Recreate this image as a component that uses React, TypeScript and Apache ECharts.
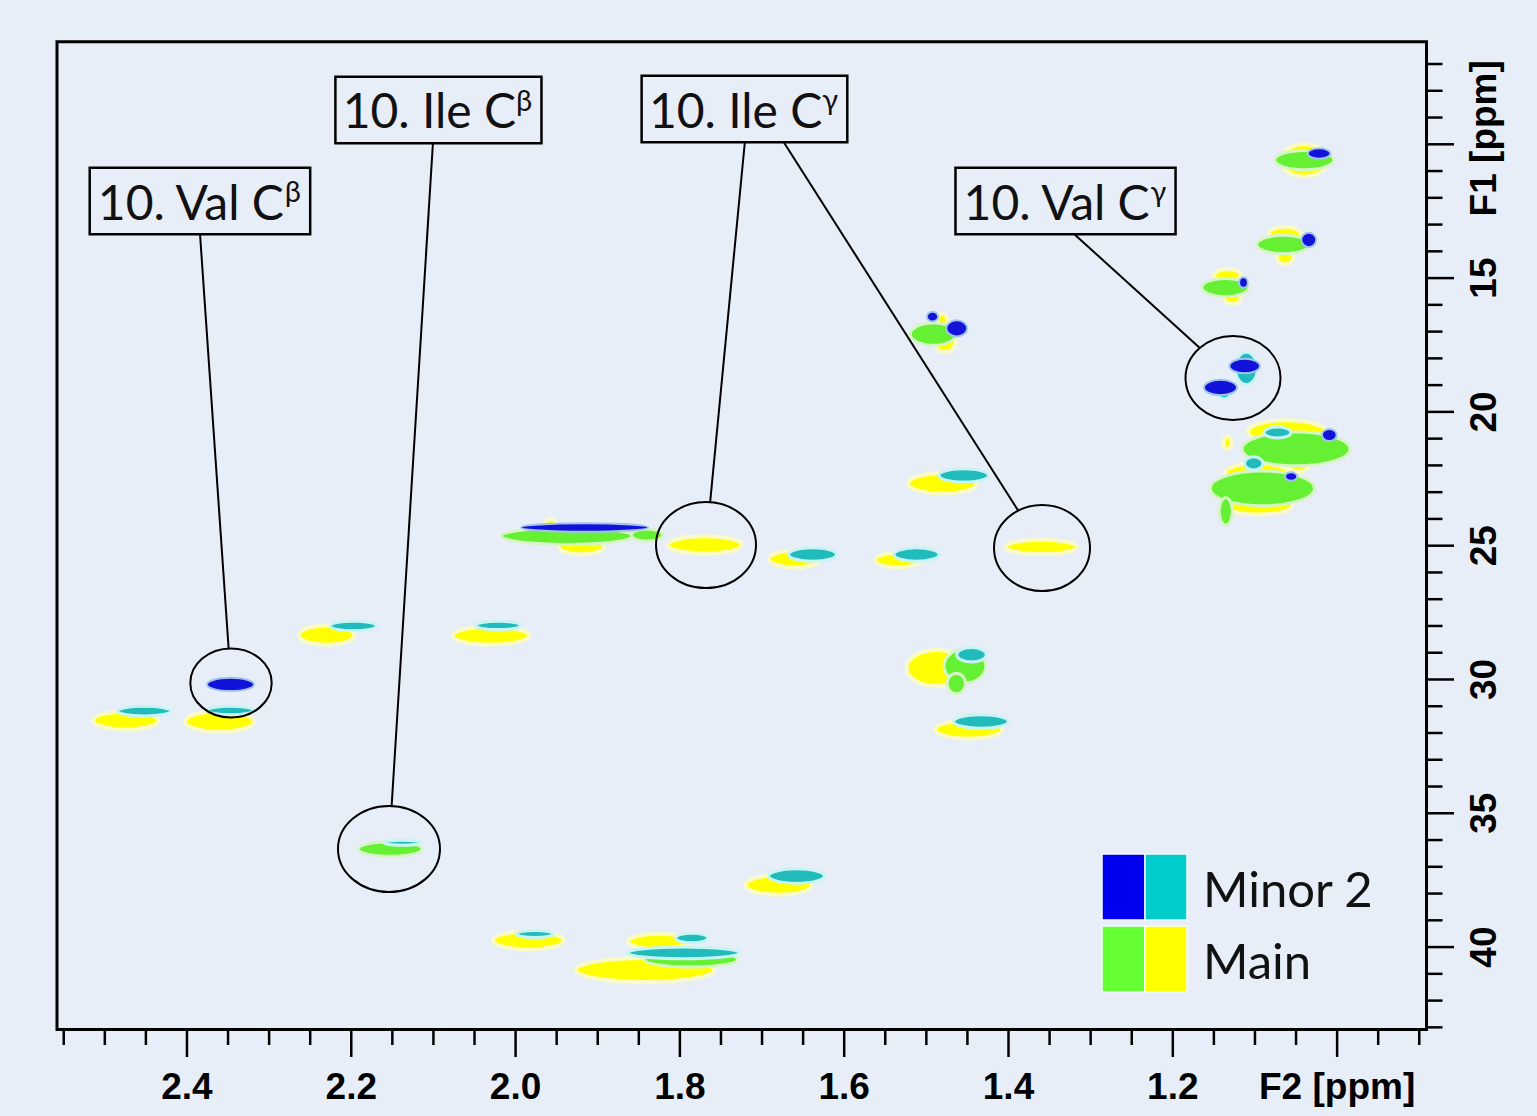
import React, { useEffect, useRef } from 'react';
import * as echarts from 'echarts';

// ---- axis extents (ppm) ----
const X_MIN = 0.8912;
const X_MAX = 2.5582;
const Y_MIN = 6.166;
const Y_MAX = 43.08;

// ---- tick labels ----
const xMajorTicks = [2.4, 2.2, 2.0, 1.8, 1.6, 1.4, 1.2, 1.0];
const xTickLabels = ['2.4', '2.2', '2.0', '1.8', '1.6', '1.4', '1.2', 'F2 [ppm]'];
const xMinorTicks = [2.55, 2.5, 2.45, 2.35, 2.3, 2.25, 2.15, 2.1, 2.05, 1.95, 1.9, 1.85, 1.75, 1.7, 1.65, 1.55, 1.5, 1.45, 1.35, 1.3, 1.25, 1.15, 1.1, 1.05, 0.95, 0.9];
const yMajorTicks = [10, 15, 20, 25, 30, 35, 40];
const yTickLabels = ['F1 [ppm]', '15', '20', '25', '30', '35', '40'];
const yMinorTicks = [7, 8, 9, 11, 12, 13, 14, 16, 17, 18, 19, 21, 22, 23, 24, 26, 27, 28, 29, 31, 32, 33, 34, 36, 37, 38, 39, 41, 42, 43];

// ---- contour blobs: [F2 from, F2 to, F1 from, F1 to] in ppm ----
const yellowPeaks = [
  [1.013, 1.067, 10.10, 11.11],
  [1.045, 1.082, 13.13, 13.58],
  [1.054, 1.073, 13.95, 14.44],
  [1.118, 1.149, 14.70, 15.11],
  [1.118, 1.137, 15.56, 15.93],
  [1.475, 1.487, 16.38, 16.75],
  [1.465, 1.490, 16.94, 17.69],
  [1.129, 1.138, 20.94, 21.35],
  [1.017, 1.106, 20.38, 21.09],
  [1.033, 1.061, 21.61, 22.17],
  [1.061, 1.134, 21.98, 22.55],
  [1.057, 1.134, 23.22, 23.78],
  [1.894, 1.946, 24.79, 25.27],
  [1.950, 1.964, 24.04, 24.41],
  [1.727, 1.812, 24.70, 25.24],
  [1.630, 1.690, 25.24, 25.76],
  [1.508, 1.561, 25.31, 25.76],
  [1.319, 1.401, 24.82, 25.27],
  [1.441, 1.520, 22.36, 22.99],
  [1.453, 1.522, 29.01, 30.13],
  [1.410, 1.487, 31.59, 32.15],
  [2.198, 2.262, 28.04, 28.64],
  [1.986, 2.074, 28.08, 28.64],
  [2.437, 2.512, 31.25, 31.81],
  [2.321, 2.400, 31.25, 31.89],
  [1.642, 1.718, 37.38, 37.98],
  [1.944, 2.025, 39.47, 40.03],
  [1.791, 1.861, 39.55, 40.03],
  [1.763, 1.922, 40.48, 41.23],
];
const greenPeaks = [
  [1.006, 1.074, 10.29, 10.89],
  [1.035, 1.096, 13.46, 14.03],
  [1.109, 1.163, 15.07, 15.63],
  [1.465, 1.518, 16.75, 17.44],
  [0.988, 1.112, 20.86, 21.91],
  [1.031, 1.151, 22.32, 23.40],
  [1.128, 1.143, 23.29, 24.15],
  [1.861, 2.013, 24.38, 24.90],
  [1.822, 1.858, 24.41, 24.79],
  [1.429, 1.477, 28.97, 30.02],
  [1.453, 1.474, 29.83, 30.47],
  [1.423, 1.459, 31.33, 31.66],
  [2.116, 2.189, 36.11, 36.56],
  [1.733, 1.840, 40.22, 40.70],
];
const cyanPeaks = [
  [1.098, 1.123, 17.87, 18.88],
  [1.130, 1.145, 19.11, 19.48],
  [1.057, 1.088, 20.60, 20.94],
  [1.091, 1.112, 21.72, 22.13],
  [1.611, 1.666, 25.12, 25.54],
  [1.486, 1.538, 25.12, 25.54],
  [1.426, 1.483, 22.17, 22.58],
  [1.428, 1.462, 28.85, 29.30],
  [1.402, 1.465, 31.36, 31.78],
  [2.171, 2.224, 27.85, 28.15],
  [1.995, 2.047, 27.85, 28.11],
  [2.421, 2.483, 31.03, 31.33],
  [2.320, 2.374, 31.03, 31.29],
  [2.116, 2.159, 36.02, 36.18],
  [1.626, 1.690, 37.12, 37.57],
  [1.955, 1.998, 39.40, 39.62],
  [1.767, 1.804, 39.51, 39.81],
  [1.731, 1.860, 40.03, 40.40],
];
const bluePeaks = [
  [1.009, 1.035, 10.18, 10.51],
  [1.026, 1.043, 13.35, 13.80],
  [1.109, 1.119, 15.00, 15.33],
  [1.486, 1.499, 16.29, 16.59],
  [1.451, 1.475, 16.63, 17.13],
  [1.095, 1.130, 18.06, 18.51],
  [1.123, 1.161, 18.85, 19.33],
  [1.001, 1.018, 20.68, 21.05],
  [1.049, 1.063, 22.28, 22.55],
  [1.843, 1.989, 24.19, 24.45],
  [2.320, 2.374, 29.98, 30.39],
];

// ---- annotations ----
const annotationNames = ['10. Val C', '10. Ile C', '10. Ile C', '10. Val C'];
const annotationSups = ['β', 'β', 'γ', 'γ'];
// box bottom-centre (ppm)
const annotationBoxes = [
  [2.3842, 13.315],
  [2.0939, 9.914],
  [1.7214, 9.877],
  [1.3306, 13.315],
];
// leader lines: [from F2, from F1, circled peak F2, circled peak F1]
const annotationLinks = [
  [[2.3842, 13.315, 2.3464, 30.131]],
  [[2.1005, 9.914, 2.1541, 36.334]],
  [[1.7208, 9.877, 1.7682, 24.974], [1.6745, 9.877, 1.3592, 25.086]],
  [[1.3215, 13.315, 1.1267, 18.733]],
];
// circle radii (px) — layout only
const circleRadii = [
  [[40.7, 34.5]],
  [[51, 43]],
  [[50, 43], [48, 43]],
  [[47.5, 42]],
];

// ---- legend ----
const legendLabels = ['Minor 2', 'Main'];
const legendColors = [['#0000EE', '#00CCCC'], ['#66FF33', '#FFFF00']];

const BG = '#E8EEF8';
const TICK_FONT = 'Liberation Sans';
const LABEL_FONT = 'Lato, "Liberation Sans", sans-serif';

function blobSeries(name: string, data: number[][], fill: string, halo: string, haloW: number) {
  return {
    type: 'custom',
    name,
    coordinateSystem: 'cartesian2d',
    silent: true,
    clip: false,
    encode: { x: [0, 1], y: [2, 3] },
    data,
    renderItem: (params: any, api: any) => {
      const p1 = api.coord([api.value(0), api.value(2)]);
      const p2 = api.coord([api.value(1), api.value(3)]);
      return {
        type: 'ellipse',
        shape: {
          cx: (p1[0] + p2[0]) / 2,
          cy: (p1[1] + p2[1]) / 2,
          rx: (Math.abs(p2[0] - p1[0]) / 2) * 1.06,
          ry: (Math.abs(p2[1] - p1[1]) / 2) * 1.2,
        },
        style: { fill, stroke: halo, lineWidth: haloW },
      };
    },
  };
}

function buildOption() {
  const xMinorSeries = {
    type: 'custom',
    coordinateSystem: 'cartesian2d',
    silent: true,
    clip: false,
    encode: { x: 0, y: 1 },
    data: xMinorTicks.map((v) => [v, Y_MAX]),
    renderItem: (params: any, api: any) => {
      const p = api.coord([api.value(0), Y_MAX]);
      return {
        type: 'line',
        shape: { x1: p[0], y1: p[1], x2: p[0], y2: p[1] + 15.5 },
        style: { stroke: '#000', lineWidth: 2.5 },
      };
    },
  };
  const xMajorSeries = {
    type: 'custom',
    coordinateSystem: 'cartesian2d',
    silent: true,
    clip: false,
    encode: { x: 0, y: 1 },
    data: xMajorTicks.map((v) => [v, Y_MAX]),
    renderItem: (params: any, api: any) => {
      const p = api.coord([api.value(0), Y_MAX]);
      return {
        type: 'group',
        children: [
          {
            type: 'line',
            shape: { x1: p[0], y1: p[1], x2: p[0], y2: p[1] + 27.5 },
            style: { stroke: '#000', lineWidth: 2.5 },
          },
          {
            type: 'text',
            x: p[0],
            y: p[1] + 57,
            style: {
              text: xTickLabels[params.dataIndex],
              fontSize: 37,
              fontWeight: 'bold',
              fontFamily: TICK_FONT,
              fill: '#000',
              align: 'center',
              verticalAlign: 'middle',
            },
          },
        ],
      };
    },
  };
  const yMinorSeries = {
    type: 'custom',
    coordinateSystem: 'cartesian2d',
    silent: true,
    clip: false,
    encode: { x: 0, y: 1 },
    data: yMinorTicks.map((v) => [X_MIN, v]),
    renderItem: (params: any, api: any) => {
      const p = api.coord([X_MIN, api.value(1)]);
      return {
        type: 'line',
        shape: { x1: p[0], y1: p[1], x2: p[0] + 16, y2: p[1] },
        style: { stroke: '#000', lineWidth: 2.5 },
      };
    },
  };
  const yMajorSeries = {
    type: 'custom',
    coordinateSystem: 'cartesian2d',
    silent: true,
    clip: false,
    encode: { x: 0, y: 1 },
    data: yMajorTicks.map((v) => [X_MIN, v]),
    renderItem: (params: any, api: any) => {
      const p = api.coord([X_MIN, api.value(1)]);
      return {
        type: 'group',
        children: [
          {
            type: 'line',
            shape: { x1: p[0], y1: p[1], x2: p[0] + 27.5, y2: p[1] },
            style: { stroke: '#000', lineWidth: 2.5 },
          },
          {
            type: 'text',
            x: p[0] + 57,
            y: p[1] - (params.dataIndex === 0 ? 6 : 0),
            rotation: Math.PI / 2,
            style: {
              text: yTickLabels[params.dataIndex],
              fontSize: 37,
              fontWeight: 'bold',
              fontFamily: TICK_FONT,
              fill: '#000',
              align: 'center',
              verticalAlign: 'middle',
            },
          },
        ],
      };
    },
  };

  const annotationSeries = {
    type: 'custom',
    coordinateSystem: 'cartesian2d',
    silent: true,
    clip: false,
    encode: { x: 0, y: 1 },
    data: annotationBoxes,
    renderItem: (params: any, api: any) => {
      const i = params.dataIndex;
      const box = api.coord([api.value(0), api.value(1)]);
      const children: any[] = [];
      annotationLinks[i].forEach((lk, j) => {
        const from = api.coord([lk[0], lk[1]]);
        const c = api.coord([lk[2], lk[3]]);
        const [rx, ry] = circleRadii[i][j];
        const dx = (from[0] - c[0]) / rx;
        const dy = (from[1] - c[1]) / ry;
        const n = Math.sqrt(dx * dx + dy * dy);
        const ex = c[0] + (rx * dx) / n;
        const ey = c[1] + (ry * dy) / n;
        children.push({
          type: 'line',
          shape: { x1: from[0], y1: from[1], x2: ex, y2: ey },
          style: { stroke: '#000', lineWidth: 2 },
        });
        children.push({
          type: 'ellipse',
          shape: { cx: c[0], cy: c[1], rx, ry },
          style: { fill: 'none', stroke: '#000', lineWidth: 2 },
        });
      });
      children.push({
        type: 'text',
        x: box[0],
        y: box[1],
        style: {
          text: '{m|' + annotationNames[i] + '}{s|' + annotationSups[i] + '}',
          align: 'center',
          verticalAlign: 'bottom',
          backgroundColor: BG,
          borderColor: '#000',
          borderWidth: 2.5,
          padding: [7, 8, 7, 6],
          rich: {
            m: { fontSize: 48, fontFamily: LABEL_FONT, fill: '#111', lineHeight: 50 },
            s: { fontSize: 29, fontFamily: LABEL_FONT, fill: '#111', verticalAlign: 'top', lineHeight: 30 },
          },
        },
      });
      return { type: 'group', children };
    },
  };

  const graphic: any[] = [];
  legendLabels.forEach((lab, i) => {
    const y = 854 + i * 72;
    graphic.push({ type: 'rect', shape: { x: 1102, y, width: 43, height: 66 }, style: { fill: legendColors[i][0], stroke: '#F4FAFF', lineWidth: 1.5 } });
    graphic.push({ type: 'rect', shape: { x: 1145, y, width: 42, height: 66 }, style: { fill: legendColors[i][1], stroke: '#F4FAFF', lineWidth: 1.5 } });
    graphic.push({
      type: 'text',
      x: 1203,
      y: y + 34,
      style: { text: lab, fontSize: 49, fontFamily: LABEL_FONT, fill: '#111', verticalAlign: 'middle', align: 'left' },
    });
  });

  return {
    animation: false,
    backgroundColor: BG,
    grid: {
      left: 57,
      right: 110.5,
      top: 41.7,
      bottom: 86.5,
      show: true,
      borderColor: '#000',
      borderWidth: 3,
      backgroundColor: 'transparent',
    },
    xAxis: { type: 'value', min: X_MIN, max: X_MAX, inverse: true, show: false },
    yAxis: { type: 'value', min: Y_MIN, max: Y_MAX, inverse: true, show: false },
    series: [
      xMinorSeries,
      xMajorSeries,
      yMinorSeries,
      yMajorSeries,
      blobSeries('Main (yellow)', yellowPeaks, '#FFFF00', '#FAFAC4', 4),
      blobSeries('Main (green)', greenPeaks, '#66F033', '#D6F5C4', 3),
      blobSeries('Minor 2 (cyan)', cyanPeaks, '#22BBBB', '#C8F4F4', 3),
      blobSeries('Minor 2 (blue)', bluePeaks, '#1212D8', '#9FC4EE', 2),
      annotationSeries,
    ],
    graphic,
  };
}

export default function App() {
  const ref = useRef<HTMLDivElement>(null);
  useEffect(() => {
    if (!ref.current) return;
    const chart = echarts.init(ref.current, null, { renderer: 'svg' });
    chart.setOption(buildOption() as any);
    return () => chart.dispose();
  }, []);
  return (
    <div
      ref={ref}
      style={{ position: 'fixed', left: 0, top: 0, width: 1537, height: 1116 }}
    />
  );
}
